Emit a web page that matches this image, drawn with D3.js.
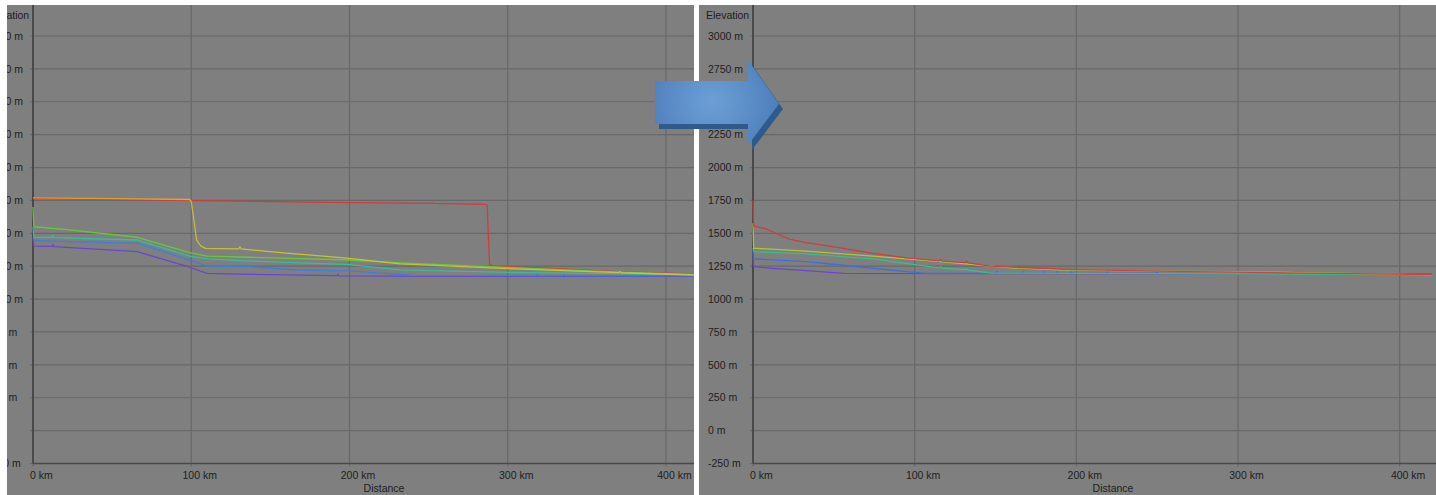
<!DOCTYPE html>
<html>
<head>
<meta charset="utf-8">
<script src="https://cdn.jsdelivr.net/npm/d3@7/dist/d3.min.js"></script>
<style>
  html, body { margin: 0; padding: 0; background: #ffffff; }
  svg { display: block; }
  text { font-family: "Liberation Sans", Arial, sans-serif; font-size: 10.5px; fill: #1e1e1e; }
</style>
</head>
<body>
<svg id="chart" width="1436" height="495"></svg>
<script>
// ---- axis ticks ----
const distanceTicks = [0, 100, 200, 300, 400];
const elevationTicks = [-250, 0, 250, 500, 750, 1000, 1250, 1500, 1750, 2000, 2250, 2500, 2750, 3000];

// ---- profile "before" (distance km, elevation m) ----
const beforeRed = [[0,1766],[50,1758],[100,1748],[150,1741],[200,1734],[251,1728],[252,1732],[253,1727],[285,1721],[287,1712],[288.5,1262],[291,1251],[330,1231],[371,1207],[420,1190]];
const beforeOrange = [[0,1770],[50,1764],[99,1757],[100,1742],[101,1660],[103.4,1449],[106,1405],[109,1386],[130,1382],[130.8,1398],[131.6,1381],[160,1350],[200,1310],[232,1268],[300,1232],[370,1201],[371,1209],[372,1200],[420,1182]];
const beforeGreen = [[0,1700],[0.5,1550],[20,1530],[66,1470],[99,1353],[110,1327],[137,1318],[200,1297],[232,1275],[300,1240],[371,1205],[420,1186]];
const beforeTeal = [[0,1550],[0.5,1470],[12,1468],[12.6,1486],[13.2,1467],[66,1449],[99,1327],[110,1305],[137,1289],[200,1262],[232,1222],[300,1203],[420,1186]];
const beforeBlue = [[0,1470],[0.5,1444],[66,1424],[99,1297],[110,1251],[137,1246],[168,1221],[200,1214],[240,1180],[318,1177],[318.6,1192],[319.2,1177],[335,1177],[335.6,1190],[336.2,1177],[420,1176]];
const beforeViolet = [[0,1444],[0.5,1403],[12,1400],[12.6,1416],[13.2,1398],[66,1360],[99,1242],[110,1196],[137,1188],[192,1178],[192.6,1188],[193.2,1177],[240,1174],[420,1172]];

// ---- profile "after" (distance km, elevation m) ----
const afterRed = [[0,1750],[0.4,1556],[4,1545],[8,1534],[12,1512],[23,1454],[33,1429],[54,1390],[74,1348],[95,1314],[115,1290],[116,1302],[117,1288],[131,1277],[132,1287],[133,1275],[147,1251],[170,1238],[200,1224],[260,1210],[330,1199],[420,1186]];
const afterYellow = [[0,1576],[0.4,1386],[2,1386],[33,1365],[74,1327],[116,1284],[147,1251],[160,1238],[190,1222],[250,1212],[330,1203],[420,1184]];
const afterTeal = [[0,1390],[0.4,1360],[33,1343],[74,1305],[115,1238],[116,1246],[117,1236],[131,1223],[132,1231],[133,1221],[147,1198],[250,1194],[420,1186]];
const afterBlue = [[0,1362],[0.4,1305],[33,1284],[54,1259],[95,1208],[107,1196],[150,1195],[151,1210],[152,1195],[166,1195],[167,1207],[168,1195],[179,1195],[180,1207],[181,1195],[187,1195],[188,1206],[189,1195],[196,1195],[197,1207],[198,1195],[218,1195],[219,1207],[220,1195],[249,1195],[250,1206],[251,1195],[318,1193],[319,1205],[320,1193],[335,1193],[336,1206],[337,1193],[420,1190]];
const afterViolet = [[0,1305],[0.4,1246],[12,1234],[33,1216],[56,1196],[150,1194],[420,1191]];

const beforeSeries = [
  { values: beforeRed,    color: "#d23b3b" },
  { values: beforeViolet, color: "#6a42d6" },
  { values: beforeBlue,   color: "#3a7ee0" },
  { values: beforeTeal,   color: "#33c0a0" },
  { values: beforeGreen,  color: "#66cc33" },
  { values: beforeOrange, color: "url(#orangeYellow)" }
];
const afterSeries = [
  { values: afterViolet, color: "#6a42d6" },
  { values: afterBlue,   color: "#3a6ee6" },
  { values: afterTeal,   color: "#38c08a" },
  { values: afterYellow, color: "#b4c832" },
  { values: afterRed,    color: "#d23b3b" }
];

const svg = d3.select("#chart");
const defs = svg.append("defs");

// orange fading into yellow along the upper "before" profile
const og = defs.append("linearGradient").attr("id", "orangeYellow")
  .attr("gradientUnits", "userSpaceOnUse").attr("x1", 33).attr("x2", 240).attr("y1", 0).attr("y2", 0);
og.append("stop").attr("offset", "0").attr("stop-color", "#e89a2a");
og.append("stop").attr("offset", "0.7").attr("stop-color", "#e0a82c");
og.append("stop").attr("offset", "0.78").attr("stop-color", "#cdbb38");
og.append("stop").attr("offset", "1").attr("stop-color", "#c8c436");

const panels = [
  { clip: [7, 5, 687, 490], axisX: 33,  xEnd: 666,    series: beforeSeries, distanceX: 384 },
  { clip: [699, 5, 737, 490], axisX: 753, xEnd: 1399.7, series: afterSeries, distanceX: 1113 }
];

const yTop = 36, yBottom = 463.5;

panels.forEach((p, i) => {
  const [cx, cy, cw, ch] = p.clip;
  defs.append("clipPath").attr("id", "clip" + i)
    .append("rect").attr("x", cx).attr("y", cy).attr("width", cw).attr("height", ch);
  const g = svg.append("g").attr("clip-path", `url(#clip${i})`);
  g.append("rect").attr("x", cx).attr("y", cy).attr("width", cw).attr("height", ch).attr("fill", "#7f7f7f");

  const x = d3.scaleLinear().domain([0, 400]).range([p.axisX, p.xEnd]);
  const y = d3.scaleLinear().domain([-250, 3000]).range([yBottom, yTop]);
  const right = cx + cw;

  // horizontal grid + tick stubs
  g.selectAll(".hgrid").data(elevationTicks).enter().append("line")
    .attr("x1", p.axisX - 3).attr("x2", right)
    .attr("y1", d => y(d)).attr("y2", d => y(d))
    .attr("stroke", "#686868").attr("stroke-width", 1.2);
  // vertical grid
  g.selectAll(".vgrid").data(distanceTicks).enter().append("line")
    .attr("x1", d => x(d)).attr("x2", d => x(d))
    .attr("y1", cy).attr("y2", yBottom + 3)
    .attr("stroke", "#686868").attr("stroke-width", 1.2);

  // axis lines
  g.append("line").attr("x1", p.axisX).attr("x2", p.axisX).attr("y1", cy).attr("y2", yBottom)
    .attr("stroke", "#3a3a3a").attr("stroke-width", 1.4);
  g.append("line").attr("x1", p.axisX).attr("x2", right).attr("y1", yBottom).attr("y2", yBottom)
    .attr("stroke", "#4a4a4a").attr("stroke-width", 1.6);

  // elevation labels (left aligned)
  g.selectAll(".ylab").data(elevationTicks).enter().append("text")
    .attr("x", p.axisX - 45).attr("y", d => y(d)).attr("dy", "0.35em")
    .text(d => `${d} m`);
  g.append("text").attr("x", p.axisX - 47).attr("y", 15).attr("dy", "0.35em").text("Elevation");

  // distance labels: number centred on grid line, unit trailing
  distanceTicks.forEach(d => {
    const t = g.append("text").attr("y", 475).attr("dy", "0.35em");
    const num = t.append("tspan").text(d);
    t.append("tspan").text(" km");
    const w = num.node().getComputedTextLength();
    t.attr("x", x(d) - w / 2);
  });
  g.append("text").attr("x", p.distanceX).attr("y", 488).attr("dy", "0.35em")
    .attr("text-anchor", "middle").text("Distance");

  const line = d3.line().x(d => x(d[0])).y(d => y(d[1]));
  p.series.forEach(s => {
    g.append("path").attr("d", line(s.values))
      .attr("fill", "none").attr("stroke", s.color)
      .attr("stroke-width", 1.3).attr("stroke-linejoin", "round").attr("opacity", 0.95);
  });
});

// ---- block arrow between the two profiles ----
const ag = defs.append("radialGradient").attr("id", "arrowFill")
  .attr("gradientUnits", "userSpaceOnUse").attr("cx", 712).attr("cy", 101).attr("r", 75);
ag.append("stop").attr("offset", "0").attr("stop-color", "#6d9fd6");
ag.append("stop").attr("offset", "1").attr("stop-color", "#4a7bb8");

const arrowPts = [[655, 81], [748, 81], [748, 60], [779, 104], [748, 145], [748, 124], [655, 124]];
const arrowPath = d3.line()(arrowPts) + "Z";
svg.append("path").attr("d", arrowPath).attr("transform", "translate(4,5)").attr("fill", "#2f5b8c");
svg.append("path").attr("d", arrowPath).attr("fill", "url(#arrowFill)");
</script>
</body>
</html>
